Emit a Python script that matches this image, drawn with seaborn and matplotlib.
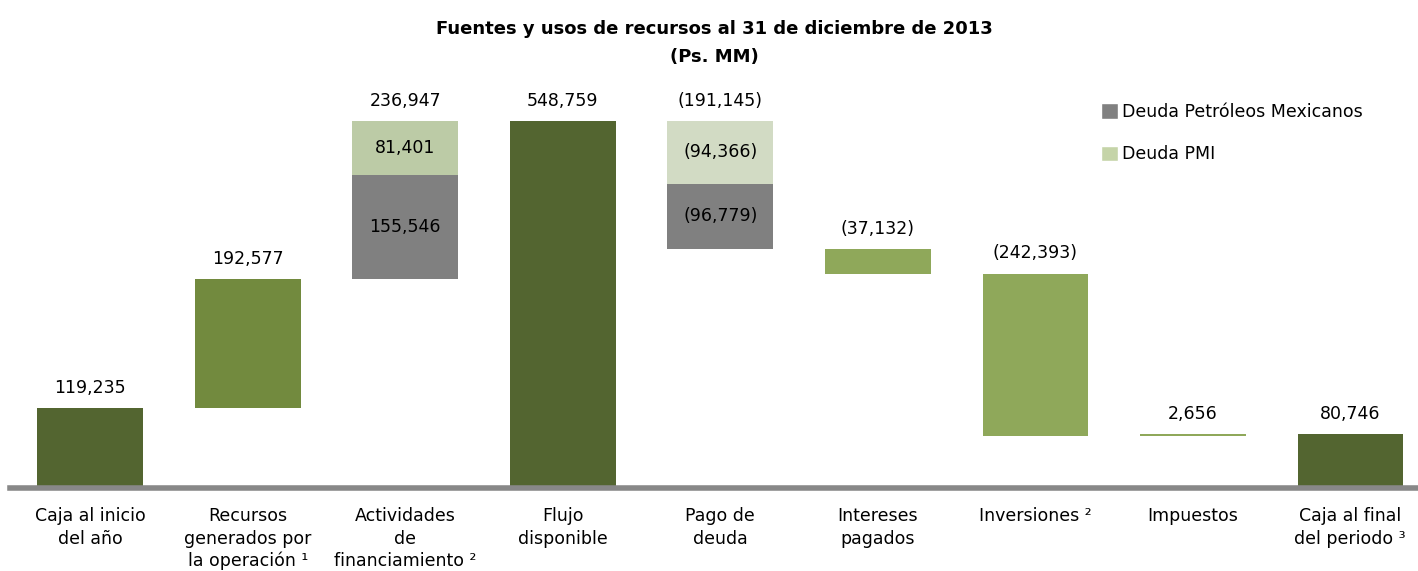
import numpy as np
import pandas as pd
import matplotlib.pyplot as plt
import seaborn as sns
from matplotlib.patches import Patch

# Datos (Ps. MM)
categorias = ["Caja al inicio\ndel año", "Recursos\ngenerados por\nla operación ¹",
              "Actividades\nde\nfinanciamiento ²", "Flujo\ndisponible", "Pago de\ndeuda",
              "Intereses\npagados", "Inversiones ²", "Impuestos", "Caja al final\ndel periodo ³"]
montos = [119235, 192577, 236947, 548759, -191145, -37132, -242393, 2656, 80746]
es_total = [True, False, False, True, False, False, False, False, True]
deuda_pemex = [0, 0, 155546, 0, -96779, 0, 0, 0, 0]
deuda_pmi = [0, 0, 81401, 0, -94366, 0, 0, 0, 0]

colores = ["#536530", "#728a3e", "#808080", "#536530", "#808080",
           "#8fa85a", "#8fa85a", "#8fa85a", "#536530"]
color_pmi = ["#bccba6", "#bccba6", "#bccba6", "#bccba6", "#d2dbc4",
             "#bccba6", "#bccba6", "#bccba6", "#bccba6"]

# Posiciones de la cascada
base, tope = [], []
acum = 0
for m, t in zip(montos, es_total):
    if t:
        acum = m
        base.append(0)
        tope.append(m)
    else:
        nuevo = acum + m
        base.append(min(acum, nuevo))
        tope.append(max(acum, nuevo))
        acum = nuevo

altura_1 = []
for i in range(len(montos)):
    if deuda_pemex[i] != 0:
        altura_1.append(abs(deuda_pemex[i]))
    else:
        altura_1.append(tope[i] - base[i])
base_pmi = [base[i] + altura_1[i] for i in range(len(montos))]
altura_pmi = [abs(v) for v in deuda_pmi]

df = pd.DataFrame({"cat": categorias, "h1": altura_1, "b1": base,
                   "h2": altura_pmi, "b2": base_pmi})

sns.set_theme(style="white")
plt.rcParams['font.family'] = ['DejaVu Sans']
plt.rcParams['text.color'] = 'black'
plt.rcParams['xtick.color'] = 'black'

fig = plt.figure(figsize=(14.18, 5.71), dpi=100)
ax = fig.add_axes([0.007, 0.1454, 0.993, 0.75])

sns.barplot(data=df, x="cat", y="h1", bottom=df["b1"], width=0.67, ax=ax,
            order=categorias, color="#808080", saturation=1)
for p, c in zip(ax.patches, colores):
    p.set_facecolor(c)
    p.set_edgecolor("none")
n1 = len(ax.patches)
sns.barplot(data=df, x="cat", y="h2", bottom=df["b2"], width=0.67, ax=ax,
            order=categorias, color="#bccba6", saturation=1)
for p, c in zip(ax.patches[n1:], color_pmi):
    p.set_facecolor(c)
    p.set_edgecolor("none")

def fmt(v):
    s = f"{abs(v):,}"
    return f"({s})" if v < 0 else s

fs = 12.5
for i, m in enumerate(montos):
    ax.annotate(fmt(m), (i, tope[i]), xytext=(0, 8), textcoords="offset points",
                ha="center", va="bottom", fontsize=fs, color="black")
    if deuda_pemex[i] != 0:
        ax.text(i, base[i] + altura_1[i] / 2, fmt(deuda_pemex[i]),
                ha="center", va="center", fontsize=fs, color="black")
        ax.text(i, base_pmi[i] + altura_pmi[i] / 2, fmt(deuda_pmi[i]),
                ha="center", va="center", fontsize=fs, color="black")

ax.set_ylim(0, 640000)
ax.set_xlim(-0.51, 8.43)
ax.set_xlabel("")
ax.set_ylabel("")
ax.set_yticks([])
ax.tick_params(axis="x", length=0, pad=14, labelsize=fs, labelcolor="black")
for lbl in ax.get_xticklabels():
    lbl.set_linespacing(1.3)
for s in ["top", "right", "left"]:
    ax.spines[s].set_visible(False)
ax.spines["bottom"].set_color("#888888")
ax.spines["bottom"].set_linewidth(4)

fig.text(0.504, 0.95, "Fuentes y usos de recursos al 31 de diciembre de 2013",
         ha="center", va="center", fontsize=13, fontweight="bold")
fig.text(0.504, 0.90, "(Ps. MM)", ha="center", va="center", fontsize=13, fontweight="bold")

handles = [Patch(facecolor="#808080", label="Deuda Petróleos Mexicanos"),
           Patch(facecolor="#c5d4a8", label="Deuda PMI")]
ax.legend(handles=handles, loc="upper left", bbox_to_anchor=(0.77, 0.915), frameon=False,
          fontsize=fs, handlelength=1.0, handleheight=1.0, handletextpad=0.2,
          labelspacing=1.4, borderaxespad=0, labelcolor="black")

fig.savefig("out.png", dpi=100)
